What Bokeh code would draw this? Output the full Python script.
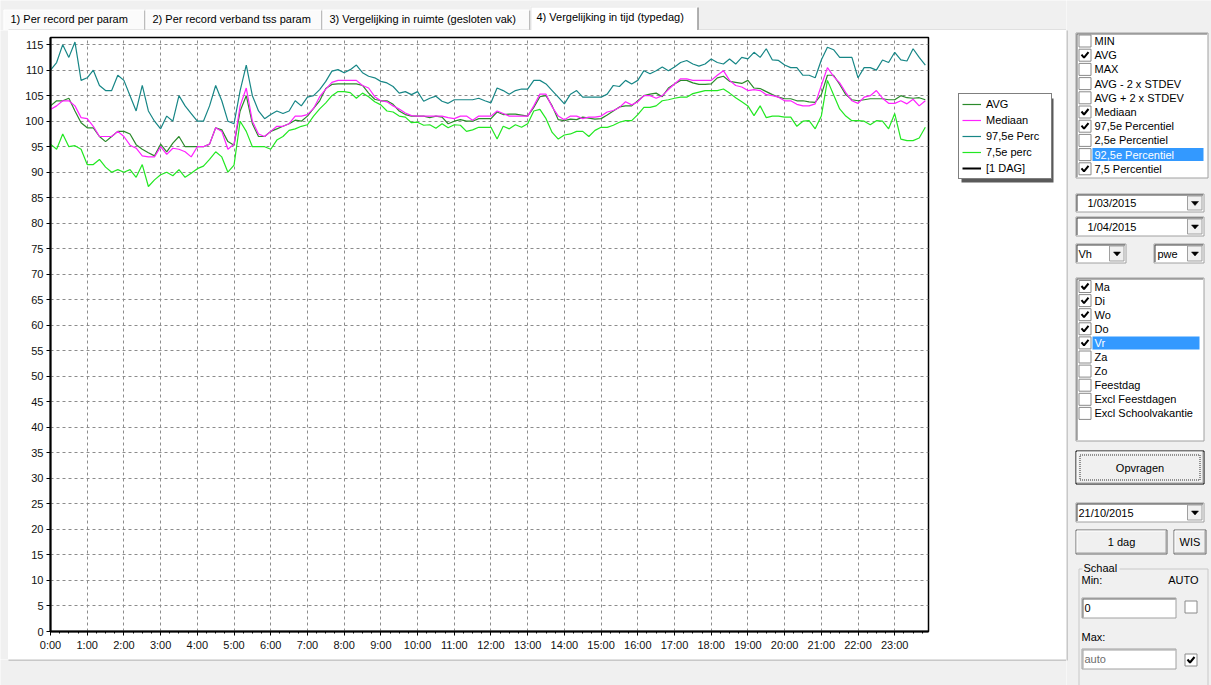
from bokeh.plotting import figure
from bokeh.models import Range1d, FixedTicker, Legend, LegendItem, ColumnDataSource
from bokeh.layouts import column, row
from bokeh.embed import file_html
from bokeh.resources import INLINE
from bokeh.core.properties import value

FONT = "Liberation Sans"
NAN = float("nan")

# ---------------- data (10-minute samples) ----------------
STEP_MIN = 10
time_h = [m / 60 for m in range(0, 24 * 60, STEP_MIN)]

avg = [
    103, 104, 104, 104.5, 102, 99.7,
    98.7, 98.7, 97, 96, 97, 98,
    98, 97.5, 95.4, 94.5, 93.8, 93.2,
    95.5, 94, 95.7, 97, 95, 95,
    95, 95, 95.5, 98.7, 98.3, 96,
    95.3, 102, 105, 99.5, 97, 97,
    98, 98.5, 99, 99.5, 100.2, 100,
    101, 102.5, 104, 106.4, 107.2, 107.3,
    107.3, 107.3, 107.3, 107, 105.5, 104.3,
    104, 104, 103.3, 102, 101.3, 101,
    101, 101, 100.7, 101, 100.8, 99.5,
    100, 100.3, 100, 100, 100.5, 100.5,
    100.5, 101.8, 101.3, 101.4, 101.4, 101.2,
    101, 102.7, 104.8, 105, 103, 100.3,
    100.1, 100.4, 100.3, 100.8, 100.6, 100.4,
    100.5, 101.2, 102, 102.8, 103, 103,
    104, 105, 105.3, 105.5, 104.8, 106.5,
    107.3, 108, 108, 107.5, 107.2, 107.2,
    107.3, 108.5, 108.8, 107.8, 107.6, 107.4,
    108, 106.5, 106.4, 105.8, 105.2, 104.7,
    104.4, 104.4, 104, 104, 103.8, 103.7,
    105.2, 109, 109, 107.2, 105.2, 104.2,
    104, 104.2, 104.4, 104.4, 104.4, 104.2,
    104.2, 105, 104.6, 104.5, 104.6, 104.2,
]

mediaan = [
    102.3, 103, 104, 104, 103, 100.7,
    100.5, 99, 97, 97, 97, 98,
    97, 95.3, 94.7, 93.2, 93, 93,
    95, 93.5, 94.7, 94.5, 94, 93,
    95, 95, 95.5, 98.7, 98, 94.5,
    95.5, 103, 106.5, 100, 97.5, 97,
    98, 99, 99, 99.5, 101, 101,
    101.3, 102.5, 104.8, 106.3, 107.6, 108,
    108, 108, 108, 107, 106.5, 104.8,
    104, 103.8, 103, 102.4, 101.6, 101.1,
    101, 101, 101, 101, 101, 100.7,
    100.5, 101, 101, 100.2, 101, 101,
    101, 102, 101.5, 101, 101, 101,
    101, 103, 105.3, 105.3, 102.8, 101,
    100.3, 101, 101, 100.5, 100.8, 100.8,
    101, 101.8, 102.1, 102.7, 103.8, 103.2,
    103.8, 105, 105, 104.5, 105, 106.2,
    107.3, 108.3, 108.3, 108, 108, 108,
    108, 109, 109.9, 108, 107, 106.7,
    106, 106.2, 106, 105.2, 105, 104.7,
    104, 104, 103.3, 103, 103, 103.4,
    107, 110.5, 108.8, 107.5, 105.6, 104,
    103.5, 104.7, 105, 106, 104.5, 103.5,
    103.5, 104, 103.4, 104.3, 103, 104,
]

perc_97_5 = [
    110, 111.5, 115, 112.5, 115.5, 108,
    108.5, 110, 107, 106, 106, 109,
    108, 105, 102, 107, 102, 100,
    98.5, 101, 100, 105, 103, 101.5,
    100, 100, 103, 107, 104, 100,
    99.5, 106, 111, 105, 102, 100.5,
    101.3, 102, 101.5, 102, 104, 103,
    104.7, 105, 106.2, 107.8, 109.8, 110.1,
    109.5, 110.1, 111, 109.5, 108.8, 108.5,
    107.8, 107.5, 106.8, 105.5, 105.8, 105.2,
    105.8, 103.9, 104.5, 104.9, 103.9, 103.5,
    104.2, 104.2, 104.2, 104.2, 104.5, 104,
    103.6, 106.5, 106, 105.3, 106, 106.3,
    106.3, 108, 108, 107.3, 106, 104.7,
    103.4, 105.3, 106, 104.7, 104.7, 104.7,
    104.7, 105.3, 107, 106.8, 108, 107.3,
    108, 109.9, 109.3, 109.9, 110.6, 109.9,
    110.6, 111.5, 111.9, 111.2, 110.8, 111.2,
    112.2, 111.5, 111.2, 112.2, 111.2, 112.5,
    112.2, 113.5, 112.5, 114.2, 112, 111.9,
    111, 110.5, 110.5, 109, 109, 108.5,
    112, 114.5, 114, 112.5, 112.5, 112.5,
    108.5, 110.5, 110.5, 110, 112, 111.5,
    113.5, 112, 111.8, 114.2, 112.5, 111,
]

perc_7_5 = [
    95.5, 94.5, 97.5, 95, 95.2, 94.5,
    91.5, 91.5, 92.5, 91, 90, 90.5,
    90, 90.5, 89, 91.5, 87.2, 88.5,
    89.5, 90, 89.3, 90.5, 89, 89.8,
    90.7, 91.2, 92.5, 94, 93, 90,
    91.4, 100, 98, 95, 95, 95,
    94.5, 96.3, 97, 98.2, 98.5, 99,
    99.3, 101, 102.4, 103.6, 105, 105.8,
    105.8, 105.6, 104.5, 105.5, 104.8, 103.8,
    103.2, 102, 101.8, 101, 100.8, 99.7,
    99.8, 99.2, 99.3, 98.6, 99.5, 98.7,
    99.3, 99.2, 98, 98.3, 98.8, 98.8,
    98.8, 96.5, 99, 98.5, 99.3, 98.8,
    99.5, 102, 102.3, 100.5, 97.8, 96.5,
    97.3, 97.5, 98, 98, 97, 98.2,
    98.8, 98.8, 99.2, 99.8, 100.1, 100.1,
    101.3, 102.7, 102.7, 103, 104, 104.2,
    104.5, 104.7, 104.7, 105.4, 105.7, 106,
    106, 106, 106.3, 105.5, 104.6, 103.8,
    103, 101.1, 103, 100.7, 101, 101,
    100.8, 100.8, 99, 100, 100.1, 98.5,
    101, 108, 105.2, 102.4, 101, 100.1,
    100.1, 100, 99.3, 100.1, 100, 98.5,
    101.5, 96.5, 96.2, 96.2, 96.7, 98.8,
]

hour_ticks = list(range(24))
hour_labels = ["%d:00" % h for h in hour_ticks]
y_ticks = list(range(0, 116, 5))

series_labels = ["AVG", "Mediaan", "97,5e Perc", "7,5e perc", "[1 DAG]"]
series_colors = ["#2b8a2b", "#ff22ff", "#178686", "#22e822", "black"]
series_widths = [1.2, 1.2, 1.2, 1.2, 2]

tab_labels = ["1) Per record per  param", "2) Per record verband tss param",
              "3) Vergelijking in ruimte (gesloten vak)", "4) Vergelijking in tijd (typedag)"]
stat_options = ["MIN", "AVG", "MAX", "AVG - 2 x STDEV", "AVG + 2 x STDEV", "Mediaan",
                "97,5e Percentiel", "2,5e Percentiel", "92,5e Percentiel", "7,5 Percentiel"]
stat_checked = [False, True, False, False, False, True, True, False, False, True]
stat_selected = 8
day_options = ["Ma", "Di", "Wo", "Do", "Vr", "Za", "Zo", "Feestdag", "Excl Feestdagen",
               "Excl Schoolvakantie"]
day_checked = [True, True, True, True, True, False, False, False, False, False]
day_selected = 4

# ---------------- main chart (screen x 8..932, y 30..659) ----------------
p = figure(width=924, height=629, x_range=Range1d(0, 23.92), y_range=Range1d(0, 116.4),
           output_backend="svg", toolbar_location=None, frame_align=False,
           min_border_left=42, min_border_right=4, min_border_top=7, min_border_bottom=28)
p.background_fill_color = "white"
p.border_fill_color = "white"
p.outline_line_color = "black"
p.outline_line_width = 1.5

p.xaxis.ticker = FixedTicker(ticks=hour_ticks, minor_ticks=[q / 4 for q in range(96)])
p.xaxis.major_label_overrides = dict(zip(hour_ticks, hour_labels))
p.yaxis.ticker = FixedTicker(ticks=y_ticks, minor_ticks=[])
for ax in (p.xaxis[0], p.yaxis[0]):
    ax.axis_line_color = "black"
    ax.axis_line_width = 2
    ax.major_tick_line_color = "black"
    ax.major_tick_out = 4
    ax.major_tick_in = 0
    ax.minor_tick_line_color = "black"
    ax.minor_tick_out = 2
    ax.minor_tick_in = 0
    ax.major_label_text_font = FONT
    ax.major_label_text_font_size = "11px"
    ax.major_label_text_color = "#111111"
    ax.major_label_standoff = 3
p.grid.grid_line_color = "#8c8c8c"
p.grid.grid_line_dash = "3 3"
p.grid.grid_line_width = 1

src = ColumnDataSource(data=dict(t=time_h, avg=avg, med=mediaan, p975=perc_97_5, p75=perc_7_5))
p.line("t", "p975", source=src, line_color=series_colors[2], line_width=series_widths[2])
p.line("t", "p75", source=src, line_color=series_colors[3], line_width=series_widths[3])
p.line("t", "avg", source=src, line_color=series_colors[0], line_width=series_widths[0])
p.line("t", "med", source=src, line_color=series_colors[1], line_width=series_widths[1])


# ---------------- helpers for the surrounding window ----------------
def ui_fig(w, h, x0, x1, y0, y1, bg="#f0f0f0"):
    f = figure(width=w, height=h, x_range=Range1d(x0, x1), y_range=Range1d(y1, y0),
               output_backend="svg", toolbar_location=None, frame_align=False,
               x_axis_type=None, y_axis_type=None, min_border=0)
    f.outline_line_color = None
    f.background_fill_color = bg
    f.border_fill_color = bg
    f.xgrid.visible = False
    f.ygrid.visible = False
    return f


def txt(f, x, y, s, color="black", align="left", size="11px"):
    f.text(x=[x], y=[y], text=[s], text_font=value(FONT), text_font_size=value(size),
           text_color=color, text_align=align, text_baseline="middle")


def rect(f, x0, y0, x1, y1, fill="white", line="#7a7a7a", lw=1, dash="solid"):
    f.quad(left=[x0], right=[x1], top=[y0], bottom=[y1], fill_color=fill,
           line_color=line, line_width=lw, line_dash=dash)


def seg(f, xs, ys, color="#a0a0a0", lw=1):
    f.line(x=xs, y=ys, line_color=color, line_width=lw)


def checkbox(f, x, yc, checked):
    rect(f, x + 0.5, yc - 6, x + 12.5, yc + 6, fill="white", line="#8a8a8a")
    if checked:
        seg(f, [x + 3, x + 5.5, x + 10], [yc - 0.5, yc + 2.5, yc - 3], color="black", lw=2)


def arrow(f, cx, cy):
    f.patch(x=[cx - 3.5, cx + 3.5, cx], y=[cy - 1.5, cy - 1.5, cy + 2.5],
            fill_color="black", line_color="black", line_width=0.5)


def combo(f, x0, y0, x1, y1, label, tx):
    rect(f, x0 + 0.5, y0 + 0.5, x1 - 0.5, y1 - 0.5, fill="white", line="#a0a0a0")
    seg(f, [x0 + 1.5, x0 + 1.5, x1 - 1.5], [y1 - 1.5, y0 + 1.5, y0 + 1.5], color="#404040")
    rect(f, x1 - 17, y0 + 2.5, x1 - 2.5, y1 - 2.5, fill="#f0f0f0", line="#a0a0a0")
    arrow(f, x1 - 9.5, (y0 + y1) / 2)
    txt(f, tx, (y0 + y1) / 2, label)


def button(f, x0, y0, x1, y1, label, default=False):
    rect(f, x0 + 0.5, y0 + 0.5, x1 - 0.5, y1 - 0.5, fill="#f0f0f0",
         line="black" if default else "#696969")
    seg(f, [x0 + 1.5, x0 + 1.5, x1 - 2], [y1 - 2, y0 + 1.5, y0 + 1.5], color="white")
    seg(f, [x0 + 1.5, x1 - 1.5, x1 - 1.5], [y1 - 1.5, y1 - 1.5, y0 + 1.5], color="#a0a0a0")
    if default:
        rect(f, x0 + 4.5, y0 + 4.5, x1 - 4.5, y1 - 4.5, fill=None, line="#303030", dash="1 1")
    txt(f, (x0 + x1) / 2, (y0 + y1) / 2, label, align="center")


def listbox(f, x0, y0, x1, y1, items, checked, selected, first_y, step):
    rect(f, x0 + 0.5, y0 + 0.5, x1 - 0.5, y1 - 0.5, fill="white", line="#a0a0a0")
    seg(f, [x0 + 1.5, x0 + 1.5, x1 - 1.5], [y1 - 1.5, y0 + 1.5, y0 + 1.5], color="#696969")
    for i, (lab, chk) in enumerate(zip(items, checked)):
        yc = first_y + step * i
        if i == selected:
            rect(f, x0 + 17, yc - 6.5, x1 - 5, yc + 6.5, fill="#3399ff", line=None)
        checkbox(f, x0 + 3, yc, chk)
        txt(f, x0 + 19, yc, lab, color="white" if i == selected else "black")


# ---------------- legend area (screen x 932..1066, y 30..659) ----------------
lf = ui_fig(134, 629, 932, 1066, 30, 659, bg="white")
rect(lf, 961, 98, 1053, 182, fill="#5a5a5a", line=None)   # drop shadow
# proxy renderers (no visible points) carrying each series' line style for the legend
legend_renderers = [lf.line(x=[NAN, NAN], y=[NAN, NAN], line_color=c, line_width=w)
                    for c, w in zip(series_colors, series_widths)]
legend = Legend(
    items=[LegendItem(label=lab, renderers=[r]) for lab, r in zip(series_labels, legend_renderers)],
    location=(26, 480), orientation="vertical",
    border_line_color="black", border_line_width=1,
    background_fill_color="white", background_fill_alpha=1,
    label_text_font=FONT, label_text_font_size="11px", label_text_color="black",
    glyph_width=19, glyph_height=14, label_height=14, label_width=62,
    label_standoff=5, spacing=2, padding=3, margin=0)
lf.add_layout(legend, "center")

# ---------------- tab strip (screen y 0..30) ----------------
tabs = ui_fig(1066, 30, 0, 1066, 0, 30)
tab_edges = [(3, 145), (145, 322), (322, 530)]
for (a, b), lab in zip(tab_edges, tab_labels[:3]):
    rect(tabs, a, 9.5, b, 30, fill="#fbfbfb", line=None)
    seg(tabs, [a + 0.5, a + 0.5, b - 1.5], [30, 9.5, 9.5], color="#ffffff")
    seg(tabs, [b - 0.5, b - 0.5], [10, 30], color="#7c7c7c")
    txt(tabs, a + 7, 18.5, lab)
rect(tabs, 530, 6, 697, 31, fill="white", line=None)
seg(tabs, [530.5, 530.5, 696], [30, 6.5, 6.5], color="#e6e6e6")
seg(tabs, [697.5, 697.5], [7, 30], color="#6a6a6a")
txt(tabs, 536, 16.5, tab_labels[3])
seg(tabs, [8, 530], [29.5, 29.5], color="#d0d0d0")
seg(tabs, [698, 1066], [29.5, 29.5], color="#d0d0d0")

# ---------------- left strip and bottom strip ----------------
left_strip = ui_fig(8, 629, 0, 8, 30, 659)
bottom = ui_fig(1066, 26, 0, 1066, 659, 685)
seg(bottom, [8, 1066], [659.5, 659.5], color="#a0a0a0")

# ---------------- right control panel (screen x 1066..1211) ----------------
rp = ui_fig(145, 685, 1066, 1211, 0, 685)
seg(rp, [1066.5, 1066.5], [30, 660], color="#a0a0a0")

listbox(rp, 1075, 32, 1208, 178, stat_options, stat_checked, stat_selected, 40.5, 14.2)
combo(rp, 1075, 193, 1204, 212, "1/03/2015", 1087)
combo(rp, 1075, 216, 1204, 236, "1/04/2015", 1087)
combo(rp, 1075, 243, 1126, 263, "Vh", 1078)
combo(rp, 1153, 243, 1204, 263, "pwe", 1157)
listbox(rp, 1075, 277, 1204, 441, day_options, day_checked, day_selected, 286, 14.1)
button(rp, 1075, 450, 1204, 484, "Opvragen", default=True)
combo(rp, 1075, 502, 1204, 522, "21/10/2015", 1078)
button(rp, 1075, 529, 1167, 554, "1 dag")
button(rp, 1173, 529, 1206, 554, "WIS")

# group box "Schaal"
seg(rp, [1082, 1078.5, 1078.5], [568.5, 568.5, 700], color="#c8c8c8")
seg(rp, [1119, 1207.5, 1207.5], [568.5, 568.5, 700], color="#c8c8c8")
txt(rp, 1083, 567, "Schaal")
txt(rp, 1081, 579, "Min:")
txt(rp, 1198, 579, "AUTO", align="right")
rect(rp, 1081.5, 597.5, 1175.5, 617.5, fill="white", line="#a0a0a0")
seg(rp, [1082.5, 1082.5, 1175], [617, 598.5, 598.5], color="#696969")
txt(rp, 1084, 607.5, "0")
checkbox(rp, 1184, 606.5, False)
txt(rp, 1081, 636, "Max:")
rect(rp, 1081.5, 648.5, 1175.5, 668.5, fill="white", line="#a0a0a0")
seg(rp, [1082.5, 1082.5, 1175], [668, 649.5, 649.5], color="#a0a0a0")
txt(rp, 1084, 658.5, "auto", color="#6d6d6d")
checkbox(rp, 1184, 659.5, True)

left_col = column(tabs, row(left_strip, p, lf, spacing=0), bottom, spacing=0)
layout = row(left_col, rp, spacing=0)

open("out.html", "w").write(file_html(layout, INLINE))
